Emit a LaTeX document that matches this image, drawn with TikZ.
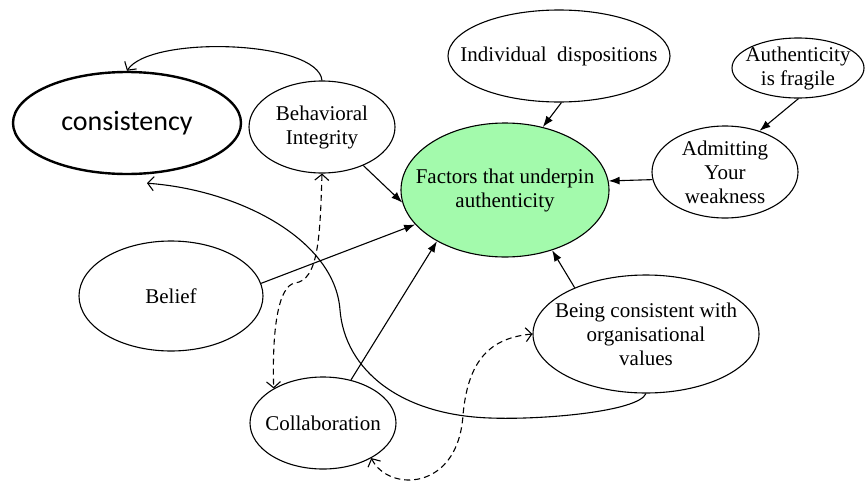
\documentclass[tikz,border=0pt]{standalone}
\usepackage{xcolor}
\usepackage{fontspec}
\setmainfont{Liberation Serif}
\newfontfamily\carlito{Carlito}
\usepackage{tikz}
\usetikzlibrary{positioning,calc,arrows.meta,shapes.geometric}
\definecolor{vertpale}{RGB}{163,250,172}

\begin{document}
\begin{tikzpicture}[x=1pt,y=-1pt]

\tikzstyle{bulle}=[ellipse, draw, line width=1.1pt, inner sep=-40pt, align=center, font=\fontsize{21}{24}\selectfont]
\tikzstyle{centre}=[bulle, fill=vertpale]
\tikzstyle{fleche}=[-{Latex[length=11pt,width=8pt]}, line width=1.1pt]
\tikzstyle{lien}=[-{Straight Barb[length=6pt,width=14pt]}, line width=1.1pt]
\tikzstyle{pointille}=[{Straight Barb[length=6pt,width=14pt]}-{Straight Barb[length=6pt,width=14pt]}, line width=1.1pt, dash pattern=on 6pt off 4pt]

\useasboundingbox (0,0) rectangle (865,482);

%placement des noeuds
\node[bulle, line width=2.4pt, minimum width=228, minimum height=102, font=\carlito\fontsize{28}{30}\selectfont] (consist) at (127,123) {consistency};
\node[bulle, minimum width=146, minimum height=92] (behav) at (322,127) {Behavioral\\Integrity};
\node[centre, minimum width=208, minimum height=134] (factors) at (505,190) {Factors that underpin\\authenticity};
\node[bulle, minimum width=222, minimum height=92] (indiv) at (559,56) {Individual\ \ dispositions};
\node[bulle, minimum width=132, minimum height=60] (fragile) at (798,68) {Authenticity\\is fragile};
\node[bulle, minimum width=146, minimum height=92] (admit) at (725,172) {Admitting\\Your\\weakness};
\node[bulle, minimum width=184, minimum height=110] (belief) at (171,296) {Belief};
\node[bulle, minimum width=146, minimum height=92] (collab) at (323,423) {Collaboration};
\node[bulle, minimum width=226, minimum height=118] (being) at (646,334) {Being consistent with\\organisational\\values};
\coordinate (cons-in) at ($(consist.south)+(20,8)$);

%placement des fleches
\draw[fleche] (behav.317) -- (factors.187);
\draw[fleche] (indiv.273) -- (factors.59);
\draw[fleche] (fragile.271) -- (admit.50);
\draw[fleche] (admit.186) -- (factors.5);
\draw[fleche] (belief.8) -- (factors.201);
\draw[fleche] (collab.57) -- (factors.217);
\draw[fleche] (being.147) -- (factors.308);
\draw[lien] (behav.north) .. controls (318,40) and (150,35) .. (consist.north);
\draw[lien] (being.south) .. controls (638,412) and (540,420) .. (490,418)
  .. controls (400,415) and (345,370) .. (340,310)
  .. controls (335,240) and (240,190) .. (cons-in);
\draw[pointille] (behav.south) .. controls (320,240) and (318,280) .. (295,283)
  .. controls (278,286) and (272,330) .. (collab.145);
\draw[pointille] (collab.324) .. controls (388,492) and (458,492) .. (463,415)
  .. controls (468,360) and (490,338) .. (being.west);
\end{tikzpicture}
\end{document}
